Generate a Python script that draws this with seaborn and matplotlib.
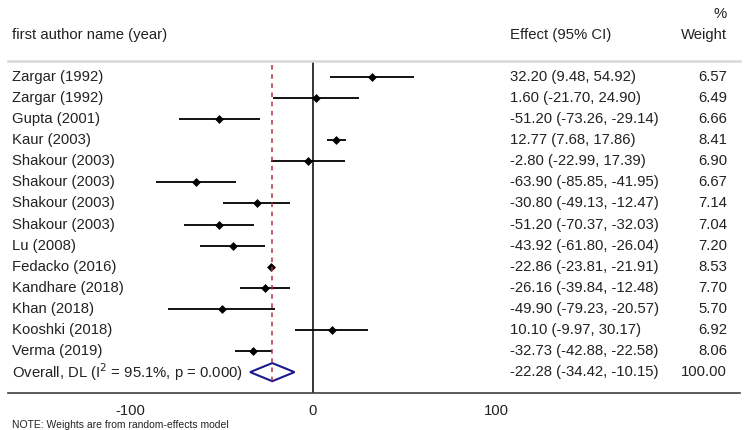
import numpy as np
import pandas as pd
import matplotlib
matplotlib.use("Agg")
import matplotlib.pyplot as plt
import matplotlib.transforms as mtransforms
import seaborn as sns

# studies en resultaten
studies = ["Zargar (1992)", "Zargar (1992)", "Gupta (2001)", "Kaur (2003)",
           "Shakour (2003)", "Shakour (2003)", "Shakour (2003)", "Shakour (2003)",
           "Lu (2008)", "Fedacko (2016)", "Kandhare (2018)", "Khan (2018)",
           "Kooshki (2018)", "Verma (2019)"]
effect = [32.20, 1.60, -51.20, 12.77, -2.80, -63.90, -30.80, -51.20,
          -43.92, -22.86, -26.16, -49.90, 10.10, -32.73]
lower = [9.48, -21.70, -73.26, 7.68, -22.99, -85.85, -49.13, -70.37,
         -61.80, -23.81, -39.84, -79.23, -9.97, -42.88]
upper = [54.92, 24.90, -29.14, 17.86, 17.39, -41.95, -12.47, -32.03,
         -26.04, -21.91, -12.48, -20.57, 30.17, -22.58]
weight = [6.57, 6.49, 6.66, 8.41, 6.90, 6.67, 7.14, 7.04,
          7.20, 8.53, 7.70, 5.70, 6.92, 8.06]

overall_label = "Overall, DL (I$^{2}$ = 95.1%, p = 0.000)"
overall_effect = -22.28
overall_lower = -34.42
overall_upper = -10.15
overall_weight = 100.00

xticks = [-100, 0, 100]

df = pd.DataFrame({"study": studies, "effect": effect, "lower": lower,
                   "upper": upper, "weight": weight})
df["row"] = np.arange(len(df))

sns.set_style("white")
plt.rcParams["font.family"] = ["Liberation Sans", "DejaVu Sans"]

fig = plt.figure(figsize=(7.46, 4.30), dpi=100)
ax = fig.add_axes([8 / 746, 1 - 393 / 430, 732 / 746, (393 - 61) / 430])

# betrouwbaarheidsintervallen
ax.hlines(df["row"], df["lower"], df["upper"], color="black", lw=1.3, zorder=3)
sns.scatterplot(data=df, x="effect", y="row", marker="D", s=16, color="black",
                edgecolor="black", linewidth=0.5, ax=ax, zorder=4, legend=False)

# overall diamant
n = len(df)
ax.fill([overall_lower, overall_effect, overall_upper, overall_effect, overall_lower],
        [n, n - 0.43, n, n + 0.43, n], facecolor="white", edgecolor="#1a1a8c",
        lw=1.5, zorder=5)

# referentielijnen
ax.axvline(0, color="black", lw=1.1, zorder=2)
ax.plot([overall_effect, overall_effect], [-0.55, n + 0.43], color="#b03040",
        ls=(0, (3, 3)), lw=1.1, zorder=6)

ax.set_xlim(-166.7, 233.3)
ax.set_ylim(n + 0.99, -0.76)
ax.set_xticks(xticks)
ax.set_xticklabels([str(t) for t in xticks], fontsize=10.7, color="#222222")
ax.set_yticks([])
ax.set_xlabel("")
ax.set_ylabel("")
ax.tick_params(axis="x", direction="out", length=5, width=1, color="#333333", pad=3)

for side in ["left", "right"]:
    ax.spines[side].set_visible(False)
ax.spines["top"].set_color("#d8d8d8")
ax.spines["top"].set_linewidth(1.8)
ax.spines["bottom"].set_color("#404040")
ax.spines["bottom"].set_linewidth(1.2)

# tekstkolommen
trans = mtransforms.blended_transform_factory(fig.transFigure, ax.transData)
fs = 10.7
x_lab = 12 / 746
x_eff = 510 / 746
x_w = 727 / 746
for i, r in df.iterrows():
    ax.text(x_lab, r["row"], r["study"], transform=trans, fontsize=fs,
            va="center", ha="left", color="#222222")
    ax.text(x_eff, r["row"], f"{r['effect']:.2f} ({r['lower']:.2f}, {r['upper']:.2f})",
            transform=trans, fontsize=fs, va="center", ha="left", color="#222222")
    ax.text(x_w, r["row"], f"{r['weight']:.2f}", transform=trans, fontsize=fs,
            va="center", ha="right", color="#222222")

ax.text(x_lab, n, overall_label, transform=trans, fontsize=fs, va="center",
        ha="left", color="#222222")
ax.text(x_eff, n, f"{overall_effect:.2f} ({overall_lower:.2f}, {overall_upper:.2f})",
        transform=trans, fontsize=fs, va="center", ha="left", color="#222222")
ax.text(x_w, n, f"{overall_weight:.2f}", transform=trans, fontsize=fs,
        va="center", ha="right", color="#222222")

# kopjes
fig.text(x_lab, 1 - 35 / 430, "first author name (year)", fontsize=fs,
         va="center", ha="left", color="#222222")
fig.text(x_eff, 1 - 35 / 430, "Effect (95% CI)", fontsize=fs, va="center",
         ha="left", color="#222222")
fig.text(x_w, 1 - 35 / 430, "Weight", fontsize=fs, va="center", ha="right",
         color="#222222")
fig.text(x_w, 1 - 14 / 430, "%", fontsize=fs, va="center", ha="right",
         color="#222222")

fig.text(x_lab, 1 - 425 / 430, "NOTE: Weights are from random-effects model",
         fontsize=7.5, va="center", ha="left", color="#222222")

fig.savefig("out.png", dpi=100)
